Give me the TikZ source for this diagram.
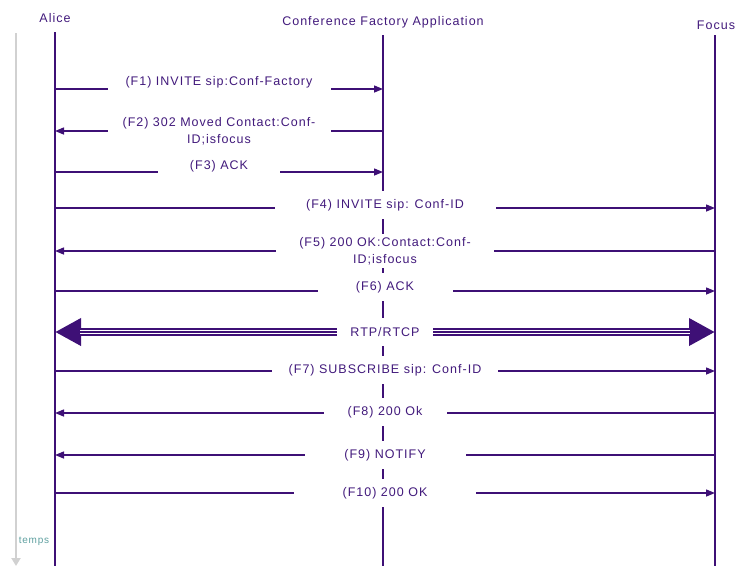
\documentclass[tikz,border=0pt]{standalone}
\usepackage{fontspec}
\setmainfont{Liberation Sans}[LetterSpace=8]
\usetikzlibrary{arrows.meta}
\definecolor{seq}{RGB}{62,16,118}
\definecolor{lbltxt}{RGB}{66,26,124}
\definecolor{tmp}{RGB}{95,160,160}

\begin{document}
\begin{tikzpicture}[x=1pt,y=-1pt,
		actor/.style={text=lbltxt, inner sep=0pt, font=\fontsize{12.5}{15}\selectfont},
		life/.style={seq, line width=2.4pt},
		msg/.style={seq, line width=1.4pt, -{Triangle[length=9pt,width=7pt]}},
		lbl/.style={fill=white, inner sep=0pt, minimum height=28pt, text=lbltxt, align=center, font=\fontsize{12.5}{17}\selectfont}]
		\useasboundingbox (0,0) rectangle (735,566);
		% actors
		\node[actor] (alice) at (55,18) {Alice};
		\node[actor] (cfa) at (383,22) {Conference Factory Application};
		\node[actor] (focus) at (716,25) {Focus};
		\coordinate (aT) at (55,32);
		\coordinate (aB) at (55,566);
		\coordinate (cT) at (383,35);
		\coordinate (cB) at (383,566);
		\coordinate (fT) at (715,35);
		\coordinate (fB) at (715,566);
		\draw[life] (aT) -- (aB);
		\draw[life] (cT) -- (cB);
		\draw[life] (fT) -- (fB);
		% time axis
		\coordinate (tT) at (16,33);
		\coordinate (tB) at (16,566);
		\draw[black!18, line width=2pt, -{Triangle[length=8pt,width=9pt]}] (tT) -- (tB);
		\node[text=tmp, inner sep=0pt, font=\fontsize{10}{10}\selectfont] (temps) at (34,541) {temps};
		% rows
		\coordinate (r1) at (0,89);
		\coordinate (r2) at (0,131);
		\coordinate (r3) at (0,172);
		\coordinate (r4) at (0,208);
		\coordinate (r5) at (0,251);
		\coordinate (r6) at (0,291);
		\coordinate (rr) at (0,332);
		\coordinate (r7) at (0,371);
		\coordinate (r8) at (0,413);
		\coordinate (r9) at (0,455);
		\coordinate (r10) at (0,493);
		\draw[msg] (aT|-r1) -- (cT|-r1) node [midway, lbl, minimum width=223pt, yshift=7pt] {(F1) INVITE sip:Conf-Factory};
		\draw[msg] (cT|-r2) -- (aT|-r2) node [midway, lbl, minimum width=223pt] {(F2) 302 Moved Contact:Conf-\\ID;isfocus};
		\draw[msg] (aT|-r3) -- (cT|-r3) node [midway, lbl, minimum width=122pt, yshift=6pt] {(F3) ACK};
		\draw[msg] (aT|-r4) -- (fT|-r4) node [midway, lbl, minimum width=221pt, yshift=3pt] {(F4) INVITE sip: Conf-ID};
		\draw[msg] (fT|-r5) -- (aT|-r5) node [midway, lbl, minimum width=218pt, inner ysep=3pt] {(F5) 200 OK:Contact:Conf-\\ID;isfocus};
		\draw[msg] (aT|-r6) -- (fT|-r6) node [midway, lbl, minimum width=135pt, yshift=4pt] {(F6) ACK};
		% media
		\draw[seq, line width=7.5pt, {Triangle[length=26pt,width=26pt]}-{Triangle[length=26pt,width=26pt]}] (aT|-rr) -- (fT|-rr);
		\draw[white, line width=4.5pt, shorten <=25pt, shorten >=25pt] (aT|-rr) -- (fT|-rr);
		\draw[seq, line width=1.5pt, shorten <=25pt, shorten >=25pt] (aT|-rr) -- (fT|-rr) node [midway, lbl, minimum width=96pt] {RTP/RTCP};
		\draw[msg] (aT|-r7) -- (fT|-r7) node [midway, lbl, minimum width=226pt, yshift=1pt] {(F7) SUBSCRIBE sip: Conf-ID};
		\draw[msg] (fT|-r8) -- (aT|-r8) node [midway, lbl, minimum width=123pt, yshift=1pt] {(F8) 200 Ok};
		\draw[msg] (fT|-r9) -- (aT|-r9) node [midway, lbl, minimum width=161pt] {(F9) NOTIFY};
		\draw[msg] (aT|-r10) -- (fT|-r10) node [midway, lbl, minimum width=182pt] {(F10) 200 OK};
	\end{tikzpicture}
\end{document}
